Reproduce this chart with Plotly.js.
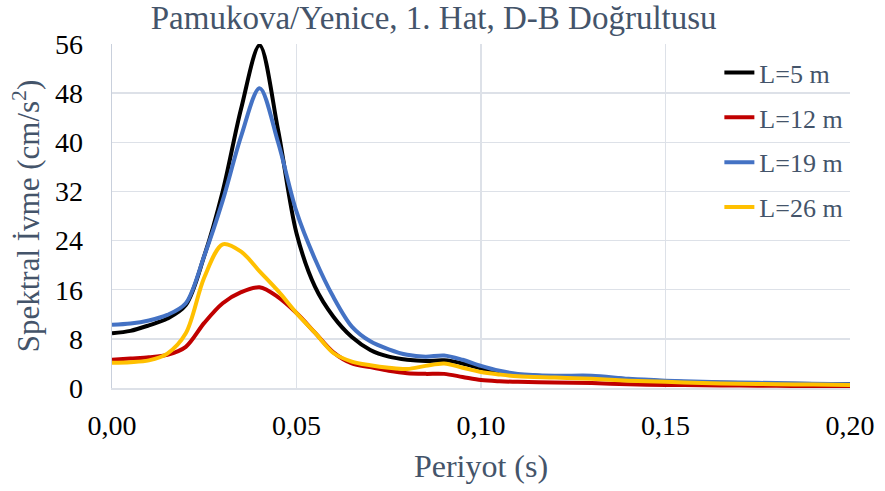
<!DOCTYPE html>
<html>
<head>
<meta charset="utf-8">
<script src="https://cdn.plot.ly/plotly-3.0.1.min.js"></script>
<style>html,body{margin:0;padding:0;background:#fff;}#chart{width:885px;height:491px;}</style>
</head>
<body>
<div id="chart"></div>
<script>
const periods = [0,0.005,0.01,0.015,0.02,0.025,0.03,0.035,0.04,0.045,0.05,0.055,0.06,0.065,0.07,0.075,0.08,0.085,0.09,0.095,0.10,0.105,0.11,0.12,0.13,0.14,0.15,0.16,0.17,0.18,0.19,0.20];
const seriesNames = ["L=5 m","L=12 m","L=19 m","L=26 m"];
const l5  = [8.9,9.3,10.2,11.3,13.5,21.5,32,45.5,55.8,42,25.2,16.5,11.6,8.3,6.2,5.1,4.6,4.4,4.5,4.0,3.2,2.5,2.1,1.9,1.8,1.4,1.1,0.9,0.8,0.7,0.65,0.6];
const l12 = [4.6,4.8,5.0,5.4,6.7,10.6,13.8,15.6,16.4,14.8,12.2,9.0,5.8,4.0,3.4,2.8,2.4,2.3,2.3,1.8,1.3,1.1,1.0,0.9,0.8,0.6,0.5,0.45,0.4,0.35,0.3,0.3];
const l19 = [10.3,10.5,11.0,11.9,13.8,21.5,30.5,41,48.8,40,28.7,21,14.8,10.0,7.6,6.3,5.4,5.1,5.3,4.6,3.6,2.8,2.3,2.0,2.0,1.5,1.2,1.0,0.9,0.8,0.7,0.6];
const l26 = [4.1,4.2,4.5,5.6,8.9,18,23.4,22.2,19,15.8,12.2,9.0,5.7,4.3,3.7,3.3,3.1,3.6,4.0,3.3,2.6,2.2,1.9,1.7,1.5,1.2,1.0,0.8,0.7,0.6,0.55,0.5];
const xTicks = [0,0.05,0.10,0.15,0.20];
const yTicks = [0,8,16,24,32,40,48,56];

const colors = ["#000000","#C00000","#4472C4","#FFC000"];
const values = [l5,l12,l19,l26];
const traces = values.map((v,i)=>({
  x: periods, y: v, name: seriesNames[i], type:'scatter', mode:'lines',
  legendgroup: 'g'+i,
  line:{color:colors[i], width:4, shape:'spline', smoothing:0.9}
}));
const fontFam = '"Liberation Serif", "Times New Roman", serif';
const layout = {
  width:885, height:491,
  margin:{l:112, r:35, t:44, b:103},
  paper_bgcolor:'#fff', plot_bgcolor:'#fff',
  separators: ',.',
  font:{family:fontFam, color:'#000'},
  title:{text:'Pamukova/Yenice, 1. Hat, D-B Doğrultusu', font:{family:fontFam, size:33, color:'#44546A'},
         xref:'container', x:0.49, xanchor:'center', yref:'container', y:0.965, yanchor:'middle'},
  xaxis:{range:[0,0.20], tickvals:xTicks, tickformat:'.2f', showgrid:true, gridcolor:'#dde1e8', gridwidth:1.5,
         zeroline:false, showline:true, linecolor:'#dde1e8', linewidth:1.5, ticks:'', ticklabelstandoff:12,
         tickfont:{family:fontFam, size:28, color:'#000'},
         title:{text:'Periyot (s)', font:{family:fontFam, size:32, color:'#44546A'}, standoff:14}},
  yaxis:{range:[0,56], tickvals:yTicks, showgrid:true, gridcolor:'#dde1e8', gridwidth:1.5,
         zeroline:false, showline:true, linecolor:'#c9d0dc', linewidth:1.5, ticks:'', ticklabelstandoff:22,
         tickfont:{family:fontFam, size:28, color:'#000'},
         title:{text:'Spektral İvme (cm/s<sup>2</sup>)', font:{family:fontFam, size:31, color:'#44546A'}, standoff:6}},
  showlegend:true,
  legend:{x:0.823, xanchor:'left', y:0.985, yanchor:'top', bgcolor:'rgba(0,0,0,0)',
          font:{family:fontFam, size:26, color:'#44546A'}, tracegroupgap:8, traceorder:'grouped'}
};
Plotly.newPlot('chart', traces, layout, {displayModeBar:false, staticPlot:true});
</script>
</body>
</html>
